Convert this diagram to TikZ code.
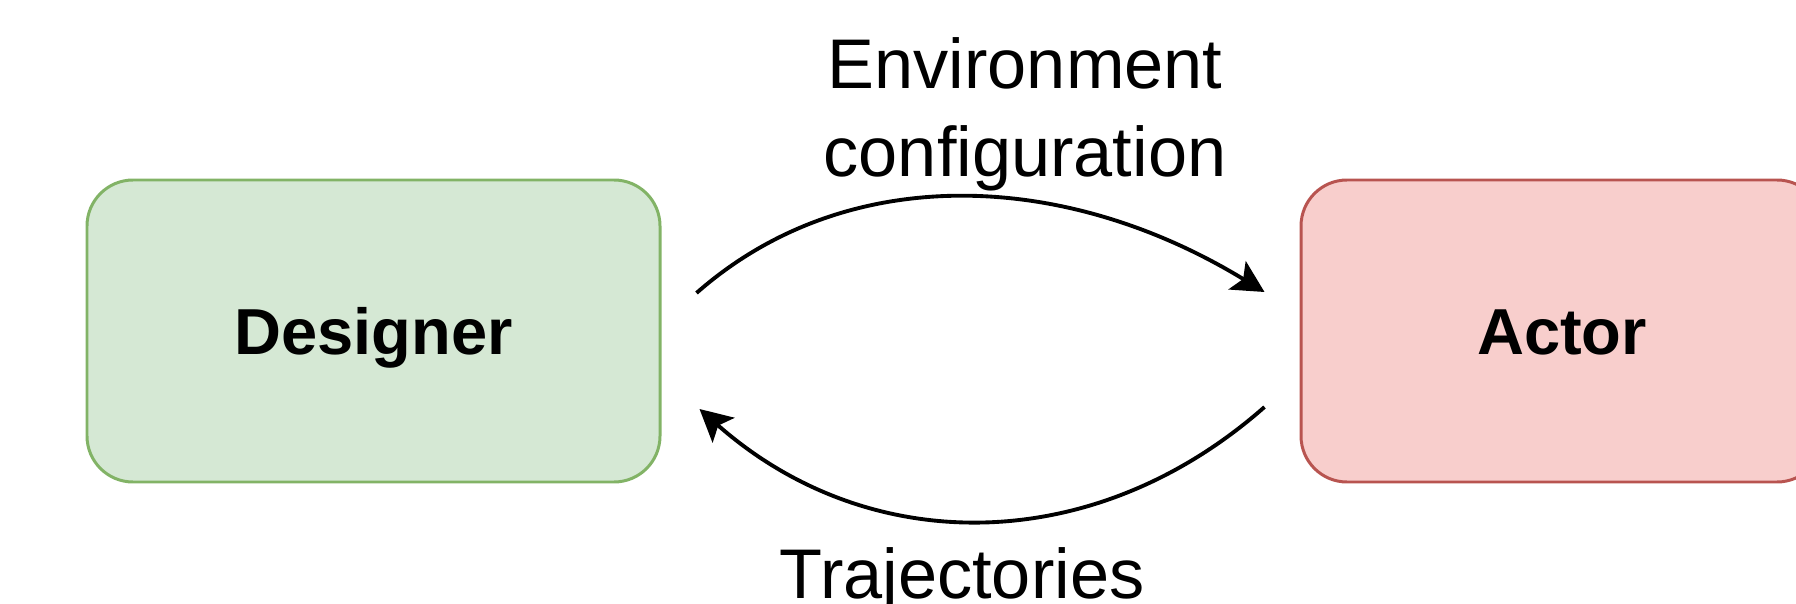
\documentclass[tikz,border=0pt]{standalone}
\usepackage{fontspec}
\setmainfont{Liberation Sans}
\usetikzlibrary{arrows.meta}

\definecolor{dgreen}{HTML}{D5E8D4}
\definecolor{dgreenline}{HTML}{82B366}
\definecolor{ared}{HTML}{F8CECC}
\definecolor{aredline}{HTML}{B85450}

\tikzset{
  agent/.style={rounded corners=0.46cm, line width=0.85pt, minimum height=3.02cm,
    text height=13.2pt, text depth=0pt, font=\fontsize{18.5}{22}\selectfont\bfseries},
  flow/.style={line width=1.1pt, -{Stealth[length=0.32cm, width=0.33cm, inset=0.07cm]}},
  lbl/.style={inner sep=0pt, align=center, font=\fontsize{20}{25}\selectfont}
}

\begin{document}
\begin{tikzpicture}
\useasboundingbox (0,0) rectangle (17.96,6.03);

\node[agent, draw=dgreenline, fill=dgreen, minimum width=5.73cm] (D) at (3.735,2.72) {Designer};
\node[agent, draw=aredline, fill=ared, minimum width=5.22cm] (A) at (15.62,2.72) {Actor};

\node[lbl, anchor=north] (E) at (10.25,5.66) {Environment\\configuration};
\node[lbl, anchor=north] (T) at (9.62,0.56) {Trajectories};

% config goes over the top, trajectories come back underneath
\draw[flow] ([shift={(0.35,0.38)}]D.east) .. controls +(1.5,1.32) and +(-2.0,1.22) .. ([shift={(-0.35,0.39)}]A.west);
\draw[flow] ([shift={(-0.35,-0.76)}]A.west) .. controls +(-1.7,-1.5) and +(1.7,-1.5) .. ([shift={(0.38,-0.78)}]D.east);
\end{tikzpicture}
\end{document}
